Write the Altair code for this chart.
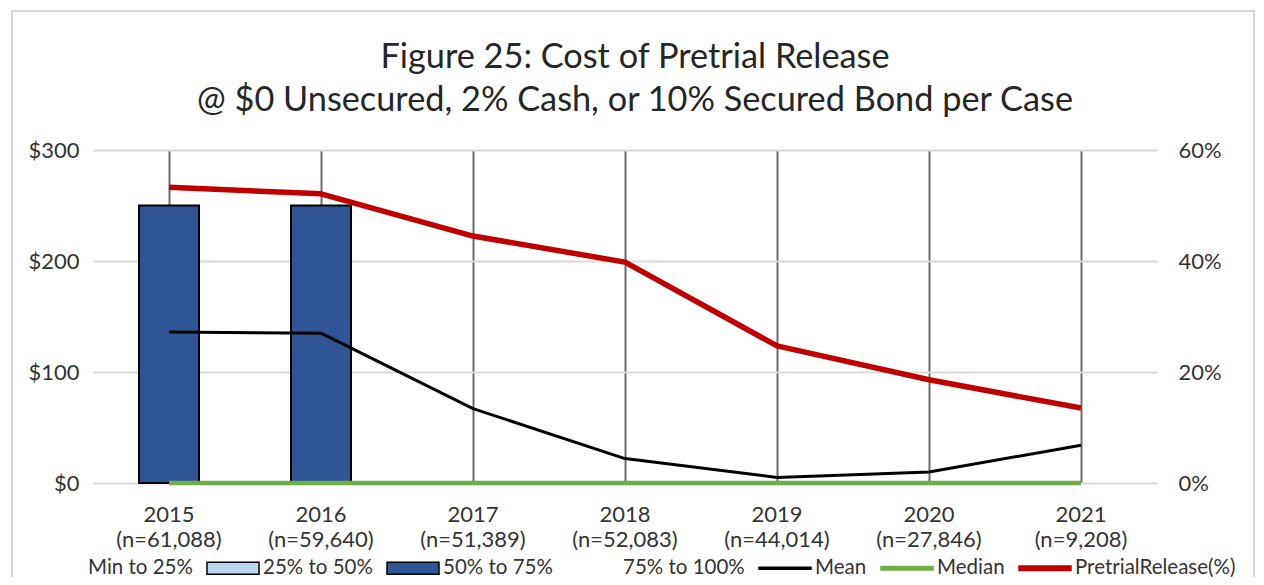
import altair as alt
import pandas as pd

years = ["2015", "2016", "2017", "2018", "2019", "2020", "2021"]
n_labels = ["(n=61,088)", "(n=59,640)", "(n=51,389)", "(n=52,083)", "(n=44,014)", "(n=27,846)", "(n=9,208)"]

seg_min_25 = [0, 0, 0, 0, 0, 0, 0]
seg_25_50 = [0, 0, 0, 0, 0, 0, 0]
seg_50_75 = [250, 250, 0, 0, 0, 0, 0]
seg_75_100 = [0, 0, 0, 0, 0, 0, 0]
mean_cost = [136, 135, 67, 22, 5, 10, 34]
median_cost = [0, 0, 0, 0, 0, 0, 0]
pretrial_rate = [0.533, 0.521, 0.445, 0.398, 0.247, 0.186, 0.135]

series = ["Min to 25%", "25% to 50%", "50% to 75%", "75% to 100%", "Mean", "Median", "PretrialRelease(%)"]
fills = ["transparent", "#bdd7ee", "#2f5597", "transparent", "#000000", "#70ad47", "#c00000"]
strokes = ["transparent", "#000000", "#000000", "transparent", "#000000", "#70ad47", "#c00000"]


def band(h):
    return f"M-1,-{h}H1V{h}H-1Z"


shapes = [band(0.23), band(0.23), band(0.23), band(0.23), band(0.035), band(0.07), band(0.09)]

cats = [f"{y}|{n}" for y, n in zip(years, n_labels)]

seg_values = [seg_min_25, seg_25_50, seg_50_75, seg_75_100]
bar_rows = []
for si, vals in enumerate(seg_values):
    for c, v in zip(cats, vals):
        bar_rows.append({"cat": c, "series": series[si], "order": si, "value": v})
bars_df = pd.DataFrame(bar_rows)

lines_df = pd.DataFrame({"cat": cats, "mean": mean_cost, "median": median_cost, "pretrial": pretrial_rate})
legend_df = pd.DataFrame({"series": series})
frame_df = pd.DataFrame({"k": [0]})

FONT = "Lato"
TXT = "#333333"

x_enc = alt.X(
    "cat:N",
    sort=cats,
    scale=alt.Scale(paddingInner=0, paddingOuter=0),
    axis=alt.Axis(
        title=None, labelExpr="split(datum.value, '|')", labelAngle=0,
        labelLineHeight=25, labelPadding=21, domain=False, ticks=False,
        grid=True, gridColor="#6b6b6b", gridWidth=2, bandPosition=0.5,
    ),
)

y_left_scale = alt.Scale(domain=[0, 300])
left_axis = alt.Axis(title=None, values=[0, 100, 200, 300], format="$.0f", domain=False,
                     ticks=False, gridColor="#d9d9d9", gridWidth=2, labelPadding=14)

bars = alt.Chart(bars_df).transform_filter("datum.value > 0").mark_bar(
    size=60, stroke="#000000", strokeWidth=2
).encode(
    x=x_enc,
    y=alt.Y("value:Q", stack="zero", scale=y_left_scale, axis=left_axis),
    color=alt.Color("series:N", scale=alt.Scale(domain=series[:4], range=fills[:4]), legend=None),
    order=alt.Order("order:Q"),
)

median_line = alt.Chart(lines_df).mark_line(color="#70ad47", strokeWidth=4.5).encode(
    x=alt.X("cat:N", sort=cats), y=alt.Y("median:Q", scale=y_left_scale, axis=left_axis)
)
mean_line = alt.Chart(lines_df).mark_line(color="#000000", strokeWidth=3, strokeJoin="round").encode(
    x=alt.X("cat:N", sort=cats), y=alt.Y("mean:Q", scale=y_left_scale, axis=left_axis)
)

legend_pts = alt.Chart(legend_df).mark_point(filled=True, opacity=0).encode(
    fill=alt.Fill("series:N", scale=alt.Scale(domain=series, range=fills), title=None),
    stroke=alt.Stroke("series:N", scale=alt.Scale(domain=series, range=strokes), title=None),
    shape=alt.Shape("series:N", scale=alt.Scale(domain=series, range=shapes), title=None),
)

frame = alt.Chart(frame_df).mark_rect(fill="transparent", stroke="#d9d9d9", strokeWidth=2).encode(
    x=alt.value(-81), x2=alt.value(1161), y=alt.value(-139), y2=alt.value(600)
)

left = alt.layer(bars, median_line, mean_line, legend_pts)

right = alt.Chart(lines_df).mark_line(color="#c00000", strokeWidth=5.5, strokeJoin="round").encode(
    x=alt.X("cat:N", sort=cats),
    y=alt.Y("pretrial:Q", scale=alt.Scale(domain=[0, 0.6]),
            axis=alt.Axis(title=None, orient="right", values=[0, 0.2, 0.4, 0.6], format=".0%",
                          grid=False, domain=False, ticks=False, labelPadding=21)),
)

chart = alt.layer(frame, left, right).resolve_scale(y="independent").properties(
    width=1064,
    height=333,
    autosize=alt.AutoSizeParams(type="none"),
    padding={"left": 85, "top": 142, "right": 99, "bottom": 94},
    title=alt.TitleParams(
        text=["Figure 25: Cost of Pretrial Release", "@ $0 Unsecured, 2% Cash, or 10% Secured Bond per Case"],
        fontSize=34.3, font=FONT, fontWeight="normal", color="#262626", lineHeight=43,
        anchor="middle", dx=10, offset=-108,
    ),
).configure_view(stroke=None).configure_axis(
    labelFont=FONT, labelFontSize=22, labelColor=TXT
).configure_legend(
    orient="none", legendX=-62, legendY=391, direction="horizontal", columns=7,
    symbolSize=2704, symbolStrokeWidth=1.5, symbolOpacity=1, labelFont=FONT,
    labelFontSize=20.5, labelColor=TXT, labelOffset=3, columnPadding=11, padding=0,
    labelLimit=400,
)

chart.save("out.html", embed_options={"renderer": "svg", "actions": False})
